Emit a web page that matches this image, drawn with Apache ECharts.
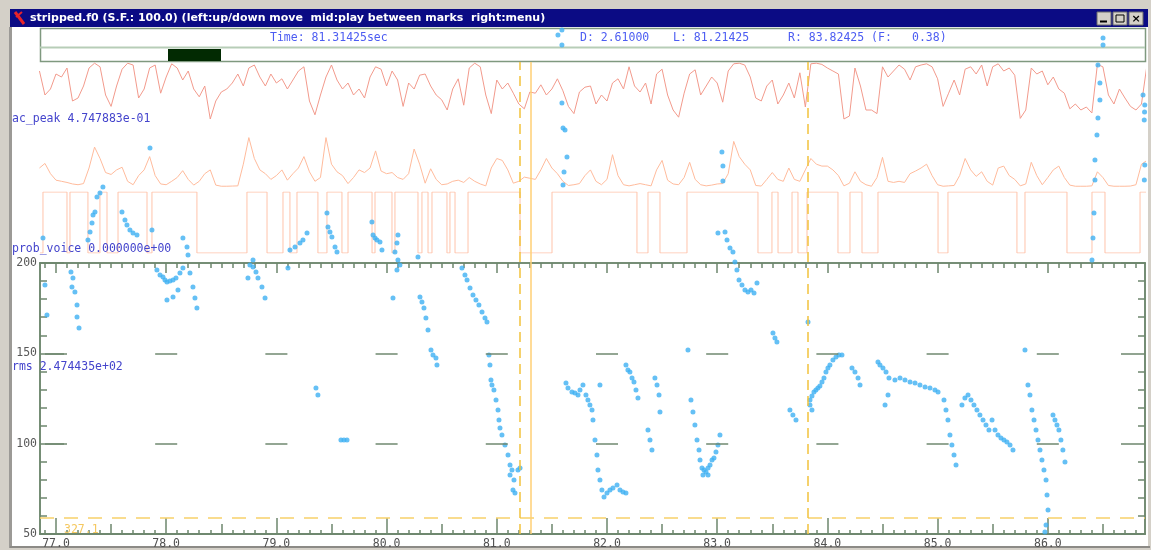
<!DOCTYPE html>
<html><head><meta charset="utf-8">
<script src="https://cdn.jsdelivr.net/npm/echarts@6/dist/echarts.min.js"></script>
<style>html,body{margin:0;padding:0;background:#d4d0c8}#c{width:1151px;height:550px}</style>
</head><body><div id="c"></div><script>
// ---------- data ----------
const fileTitle = 'stripped.f0 (S.F.: 100.0) (left:up/down move  mid:play between marks  right:menu)';
const cursorTime = 81.31425;
const leftMark = 81.21425;
const rightMark = 83.82425;
const acPeakAtCursor = 0.4747883;
const probVoiceAtCursor = 0;
const rmsAtCursor = 247.4435;
const lowerCursorF0 = 58.9;
const lowerCursorText = '327.1';
const timeTicks = [77, 78, 79, 80, 81, 82, 83, 84, 85, 86];
const f0Ticks = [50, 100, 150, 200];
const f0GridLevels = [100, 150];
const frameStart = 76.85, frameStep = 0.05;
const acPeak = [0.85,0.45,0.55,0.80,0.75,0.90,0.35,0.40,0.60,0.90,
0.98,0.92,0.45,0.26,0.60,0.88,0.98,0.95,0.40,0.55,
0.90,0.95,0.48,0.75,0.97,0.90,0.70,0.85,0.55,0.42,
0.60,0.05,0.35,0.50,0.55,0.65,0.80,0.60,0.90,0.95,
0.75,0.60,0.80,0.65,0.72,0.55,0.70,0.85,0.92,0.35,
0.12,0.45,0.75,0.95,0.70,0.55,0.65,0.45,0.55,0.40,
0.75,0.92,0.88,0.60,0.85,0.70,0.26,0.65,0.55,0.78,
0.80,0.60,0.45,0.37,0.20,0.55,0.72,0.28,0.90,0.98,
0.92,0.45,0.14,0.70,0.55,0.65,0.48,0.30,0.22,0.50,
0.48,0.62,0.45,0.55,0.72,0.52,0.26,0.14,0.50,0.58,
0.60,0.30,0.45,0.35,0.65,0.72,0.55,0.92,0.60,0.50,
0.65,0.30,0.80,0.88,0.45,0.20,0.08,0.48,0.80,0.87,
0.45,0.60,0.75,0.65,0.33,0.85,0.97,0.98,0.95,0.75,
0.40,0.35,0.60,0.70,0.30,0.45,0.65,0.40,0.82,0.25,
0.97,0.98,0.96,0.90,0.85,0.80,0.05,0.10,0.90,0.60,
0.20,0.20,0.14,0.92,0.75,0.85,0.95,0.88,0.70,0.92,
0.95,0.97,0.92,0.72,0.26,0.48,0.70,0.45,0.88,0.92,
0.80,0.95,0.60,0.92,0.97,0.85,0.90,0.78,0.06,0.20,
0.90,0.80,0.85,0.62,0.75,0.55,0.48,0.22,0.30,0.20,
0.25,0.15,0.96,0.92,0.45,0.30,0.55,0.40,0.26,0.20,
0.30,0.95];
const rms = [500,620,350,180,150,120,80,60,90,500,
1050,750,380,330,450,520,150,60,300,450,
800,300,80,60,150,250,430,200,50,150,
350,450,50,20,20,25,30,600,1300,750,
450,350,200,300,450,180,350,500,800,400,
150,250,1300,600,400,300,90,250,450,380,
500,950,420,350,380,250,200,350,1000,600,
100,480,200,60,80,150,180,120,250,150,
80,30,500,750,700,450,100,150,260,230,
200,450,750,500,350,150,40,60,90,300,
450,150,60,200,850,300,60,30,60,90,
60,30,450,700,180,80,60,250,650,200,
60,30,50,80,90,350,1200,800,600,450,
40,25,200,380,200,150,500,200,150,450,
750,600,550,550,450,300,30,100,400,150,
60,20,250,780,150,120,150,120,350,420,
500,600,300,60,20,30,40,300,750,450,
280,400,150,50,500,550,300,200,30,80,
650,300,60,250,450,550,250,50,20,20,
20,30,400,250,40,20,20,20,25,60,
600,700];
const voiceTimes = [76.855,76.882,77.100,77.127,77.290,77.399,77.463,77.563,77.826,77.871,78.279,78.733,78.915,79.060,79.123,79.187,79.377,79.459,79.595,79.650,79.868,79.895,80.049,80.076,80.285,80.321,80.376,80.412,80.548,80.575,80.621,80.739,81.211,81.501,82.272,82.372,82.481,82.726,83.370,83.497,83.552,83.679,83.733,83.815,84.096,84.205,84.314,84.459,85.004,85.094,85.720,85.793,86.174,86.401,86.519,86.837,86.927];
const voiceValues = [0,1,0,1,0,1,0,1,0,1,0,1,0,1,0,1,0,1,0,1,0,1,0,1,0,1,0,1,0,1,0,1,0,1,0,1,0,1,0,1,0,1,0,1,0,1,0,1,0,1,0,1,0,1,0,1,1];
const f0Points = [
[76.882,213.8],[76.900,187.8],[76.918,171.2],
[77.136,195.0],[77.145,186.7],[77.154,191.7],[77.172,184.0],[77.191,176.8],[77.191,170.1],[77.209,164.0],
[77.290,212.7],[77.309,217.2],[77.327,222.1],[77.336,226.6],[77.354,228.2],[77.372,236.5],[77.399,238.7],[77.426,242.1],
[77.599,228.2],[77.626,223.8],[77.644,221.0],[77.671,218.3],[77.699,216.6],[77.735,215.5],
[77.853,263.6],[77.871,218.3],
[77.916,196.1],[77.944,193.4],[77.971,192.3],[77.989,190.6],[78.007,189.5],[78.034,190.0],[78.062,190.6],[78.089,191.7],[78.125,194.5],[78.152,197.2],[78.007,179.5],[78.062,181.2],[78.107,185.1],
[78.152,213.8],[78.189,208.9],[78.198,204.4],[78.216,194.5],[78.243,186.7],[78.261,180.6],[78.279,175.1],
[78.742,191.7],[78.760,198.9],[78.788,201.7],[78.788,197.8],[78.815,195.0],[78.833,191.7],[78.869,186.7],[78.897,180.6],
[79.105,197.2],[79.123,207.2],[79.169,208.9],[79.214,211.1],[79.241,212.7],[79.278,216.6],
[79.359,130.8],[79.377,127.0],
[79.459,227.7],[79.468,219.9],[79.486,217.2],[79.504,214.4],[79.532,208.9],[79.550,206.1],
[79.586,102.0],[79.613,102.0],[79.641,102.0],
[79.867,222.7],[79.877,215.5],[79.895,213.8],[79.913,212.7],[79.940,211.6],[79.958,207.2],
[80.076,206.1],[80.094,211.1],[80.103,215.5],[80.103,201.7],[80.121,198.9],[80.094,196.1],[80.058,180.6],
[80.285,203.3],[80.303,181.2],[80.321,178.4],[80.339,175.1],[80.357,169.6],[80.376,162.9],[80.403,151.9],[80.421,149.1],[80.448,147.4],[80.457,143.6],
[80.684,197.2],[80.711,193.4],[80.730,190.6],[80.757,186.2],[80.784,182.3],[80.811,179.5],[80.838,176.8],[80.866,172.9],[80.893,169.6],[80.911,167.4],
[80.929,149.1],[80.938,143.6],[80.947,135.3],[80.956,132.5],[80.974,129.7],[80.993,124.2],[81.011,118.6],[81.020,113.1],[81.029,108.7],[81.047,104.8],[81.074,99.3],[81.102,93.7],[81.120,88.2],[81.138,85.4],[81.156,79.9],[81.147,74.4],[81.165,72.7],[81.192,85.4],[81.211,86.6],[81.120,82.7],
[81.555,326.2],[81.591,328.9],[81.591,320.6],
[81.591,288.5],[81.601,274.7],[81.619,273.6],[81.637,258.7],[81.610,250.4],[81.601,243.2],
[81.628,133.6],[81.646,130.8],[81.682,128.6],[81.709,128.1],[81.737,127.0],[81.755,129.7],[81.782,132.5],[81.809,127.0],[81.827,124.2],[81.845,121.4],[81.864,118.6],[81.873,113.1],[81.891,102.0],[81.909,93.7],[81.918,85.4],[81.936,79.9],[81.954,74.4],[81.973,70.5],[82.000,72.7],[82.027,74.4],[82.054,75.5],[82.091,77.1],[82.118,74.4],[82.145,73.3],[82.172,72.7],[81.936,132.5],
[82.172,143.6],[82.190,140.8],[82.208,139.7],[82.227,136.4],[82.245,134.1],[82.263,129.7],[82.281,125.3],
[82.372,107.6],[82.390,102.0],[82.408,96.5],[82.435,136.4],[82.454,132.5],[82.472,127.0],[82.481,117.5],
[82.735,151.9],
[82.762,124.2],[82.780,117.5],[82.798,110.3],[82.817,102.0],[82.835,96.5],[82.844,91.0],[82.862,86.6],[82.880,85.4],[82.898,84.3],[82.917,86.6],[82.935,88.2],[82.953,91.0],[82.971,92.1],[82.989,95.4],[83.007,99.3],[83.025,104.8],[82.917,82.7],[82.871,82.7],
[83.043,261.4],[83.052,253.7],[83.052,245.4],[83.007,216.6],[83.071,217.2],[83.089,212.7],[83.116,208.3],[83.143,206.1],
[83.161,200.6],[83.179,196.1],[83.198,190.6],[83.225,187.8],[83.252,185.1],[83.279,184.0],[83.307,185.1],[83.334,183.4],[83.361,188.9],
[83.506,161.3],[83.524,158.5],[83.542,156.3],
[83.660,118.6],[83.687,115.9],[83.715,113.1],
[83.824,167.4],
[83.842,124.2],[83.860,126.4],[83.878,128.6],[83.896,129.7],[83.914,130.8],[83.932,131.9],[83.951,134.1],[83.969,136.4],[83.987,139.7],[84.005,141.9],[84.023,143.6],[84.050,146.3],[84.078,148.0],[84.105,149.1],[84.132,149.1],[83.842,121.4],[83.860,118.6],
[84.223,141.9],[84.250,139.7],[84.278,136.4],[84.296,132.5],
[84.459,145.2],[84.477,143.6],[84.504,141.9],[84.532,139.7],[84.559,136.4],[84.550,127.0],[84.523,121.4],
[84.613,135.3],[84.659,136.4],[84.704,135.3],[84.750,134.1],[84.795,133.6],[84.840,132.5],[84.886,131.4],[84.931,130.8],[84.976,129.7],[85.004,128.6],
[85.058,124.2],[85.076,118.6],[85.094,113.1],[85.112,104.8],[85.130,99.3],[85.149,93.7],[85.167,88.2],
[85.221,121.4],[85.248,125.3],[85.276,127.0],[85.303,124.2],[85.330,121.4],[85.357,118.6],[85.384,115.9],[85.412,113.1],[85.439,110.3],[85.466,107.6],
[85.494,113.1],[85.521,107.6],[85.548,104.8],[85.575,103.2],[85.602,102.0],[85.629,100.9],[85.657,99.3],[85.684,96.5],
[85.793,151.9],
[85.820,132.5],[85.838,127.0],[85.856,118.6],[85.875,113.1],[85.893,107.6],[85.911,102.0],[85.929,96.5],[85.947,91.0],[85.965,85.4],[85.984,79.9],[85.993,71.6],[86.002,63.3],[85.984,55.0],[85.974,51.1],
[86.047,115.9],[86.065,113.1],[86.083,110.3],[86.101,107.6],[86.119,102.0],[86.137,96.5],[86.156,89.9],
[86.401,201.7],[86.410,213.8],[86.419,227.7],[86.428,245.9],[86.428,257.0],[86.446,270.8],[86.455,280.2],[86.473,290.2],[86.473,299.6],[86.455,309.6],[86.501,320.6],[86.501,324.5],
[86.864,293.0],[86.880,287.4],[86.878,283.6],[86.875,279.1],[86.880,254.2],[86.876,245.9]
];

// ---------- layout / helpers ----------
const X0 = 76.855, X1 = 86.882;
const L = 40, W = 1105;
function sci(v) {
  const s = v.toExponential(6).split('e');
  const e = s[1];
  const sign = e[0] === '-' ? '-' : '+';
  return s[0] + 'e' + sign + e.replace(/[+-]/, '').padStart(2, '0');
}
const frameTimes = acPeak.map((_, i) => +(frameStart + i * frameStep).toFixed(3));
const halfTicks = timeTicks.map(t => t + 0.5).filter(t => t < X1);
const minorTicks = [];
for (let k = Math.ceil(X0 * 10); k <= Math.floor(X1 * 10); k++) {
  if (k % 5 !== 0) minorTicks.push(k / 10);
}
const f0Minor = [];
for (let v = 60; v < 200; v += 10) if (v % 50 !== 0) f0Minor.push(v);

const axisCol = '#6d866d';
const mono = 'DejaVu Sans Mono';
function hiddenX(grid) { return { type: 'value', gridIndex: grid, min: X0, max: X1, show: false }; }
function tickX(grid, pos, vals, len, labels) {
  return {
    type: 'value', gridIndex: grid, min: X0, max: X1, position: pos,
    axisLine: { show: true, lineStyle: { color: axisCol, width: 1.5 } },
    splitLine: { show: false },
    axisTick: { show: true, inside: true, length: len, customValues: vals, lineStyle: { color: axisCol, width: 1.5 } },
    axisLabel: labels ? { show: true, customValues: vals, formatter: v => v.toFixed(1), color: '#505050', fontFamily: mono, fontSize: 11.5, margin: 4 } : { show: false }
  };
}
function tickY(grid, pos, vals, len, labels) {
  return {
    type: 'value', gridIndex: grid, min: 50, max: 200, position: pos,
    axisLine: { show: true, lineStyle: { color: axisCol, width: 1.5 } },
    splitLine: { show: false },
    axisTick: { show: true, inside: true, length: len, customValues: vals, lineStyle: { color: axisCol, width: 1.5 } },
    axisLabel: labels ? { show: true, customValues: vals, color: '#585858', fontFamily: mono, fontSize: 11.5, margin: 3 } : { show: false }
  };
}

const gridDashes = [];
f0GridLevels.forEach(lv => timeTicks.forEach(t => {
  gridDashes.push([{ coord: [t - 0.1, lv] }, { coord: [t + 0.1, lv] }]);
}));

const header = [
  { text: 'Time: ' + cursorTime.toFixed(5) + 'sec', x: 270 },
  { text: 'D: ' + (rightMark - leftMark).toFixed(5), x: 580 },
  { text: 'L: ' + leftMark.toFixed(5), x: 673 },
  { text: 'R: ' + rightMark.toFixed(5) + ' (F:', x: 788 },
  { text: (1 / (rightMark - leftMark)).toFixed(2) + ')', x: 912 }
];
const traceLabels = [
  { text: 'ac_peak ' + sci(acPeakAtCursor), y: 119 },
  { text: 'prob_voice ' + sci(probVoiceAtCursor), y: 249 },
  { text: 'rms ' + sci(rmsAtCursor), y: 367 }
];

const graphics = [
  { type: 'rect', z: -10, shape: { x: 12, y: 27, width: 1136, height: 520 }, style: { fill: '#ffffff' } },
  { type: 'rect', z: -9, shape: { x: 9, y: 27, width: 3, height: 521 }, style: { fill: '#9c9a96' } },
  { type: 'rect', z: -9, shape: { x: 10, y: 546, width: 1140, height: 2 }, style: { fill: '#8c8a86' } },
  { type: 'rect', shape: { x: 10, y: 9, width: 1138, height: 18 }, style: { fill: '#0b0b84' } },
  { type: 'line', shape: { x1: 15, y1: 12, x2: 24, y2: 24 }, style: { stroke: '#e8242a', lineWidth: 3 } },
  { type: 'line', shape: { x1: 22, y1: 12, x2: 16, y2: 17 }, style: { stroke: '#e8242a', lineWidth: 2 } },
  { type: 'text', style: { text: fileTitle, x: 30, y: 18, fill: '#ffffff', font: 'bold 11px "DejaVu Sans"', verticalAlign: 'middle' } },
  { type: 'rect', shape: { x: 1097, y: 12, width: 14, height: 13 }, style: { fill: '#d4d0c8', stroke: '#6a6a6a' } },
  { type: 'rect', shape: { x: 1113, y: 12, width: 14, height: 13 }, style: { fill: '#d4d0c8', stroke: '#6a6a6a' } },
  { type: 'rect', shape: { x: 1129, y: 12, width: 14, height: 13 }, style: { fill: '#d4d0c8', stroke: '#6a6a6a' } },
  { type: 'line', shape: { x1: 1100, y1: 21.5, x2: 1107, y2: 21.5 }, style: { stroke: '#000', lineWidth: 2 } },
  { type: 'rect', shape: { x: 1116, y: 15, width: 8, height: 7 }, style: { fill: 'none', stroke: '#000', lineWidth: 1 } },
  { type: 'text', style: { text: '×', x: 1136, y: 19, fill: '#000', font: 'bold 11px "DejaVu Sans"', align: 'center', verticalAlign: 'middle' } },
  { type: 'rect', shape: { x: 40.5, y: 28.5, width: 1105, height: 33 }, style: { fill: 'none', stroke: '#7f997f', lineWidth: 1.5 } },
  { type: 'line', shape: { x1: 40, y1: 47.5, x2: 1145, y2: 47.5 }, style: { stroke: '#b7cdb7', lineWidth: 2 } },
  { type: 'rect', shape: { x: 168, y: 49, width: 53, height: 12 }, style: { fill: '#022a02' } },
  { type: 'text', z: 5, style: { text: lowerCursorText, x: 64, y: 530, fill: '#f5c860', font: '11.5px "' + mono + '"', verticalAlign: 'middle' } }
];
header.forEach(h => graphics.push({ type: 'text', style: { text: h.text, x: h.x, y: 38, fill: '#4c5cf2', font: '11.5px "' + mono + '"', verticalAlign: 'middle' } }));
traceLabels.forEach(h => graphics.push({ type: 'text', z: 5, style: { text: h.text, x: 12, y: h.y, fill: '#4444cc', font: '11.5px "' + mono + '"', verticalAlign: 'middle' } }));

const option = {
  animation: false,
  backgroundColor: '#d4d0c8',
  grid: [
    { left: L, width: W, top: 62, height: 60 },
    { left: L, width: W, top: 130, height: 57 },
    { left: L, width: W, top: 192, height: 61 },
    { left: L, width: W, top: 263, height: 271 },
    { left: L, width: W, top: 62, height: 472 }
  ],
  xAxis: [
    hiddenX(0), hiddenX(1), hiddenX(2),
    tickX(3, 'bottom', timeTicks, 16, true),
    tickX(3, 'bottom', halfTicks, 10, false),
    tickX(3, 'bottom', minorTicks, 4, false),
    tickX(3, 'top', timeTicks, 10, false),
    tickX(3, 'top', minorTicks.concat(halfTicks), 5, false),
    hiddenX(4)
  ],
  yAxis: [
    { type: 'value', gridIndex: 0, min: 0, max: 1, show: false },
    { type: 'value', gridIndex: 1, min: 0, max: 1500, show: false },
    { type: 'value', gridIndex: 2, min: 0, max: 1, show: false },
    tickY(3, 'left', f0Ticks, 24, true),
    tickY(3, 'left', f0Minor, 7, false),
    tickY(3, 'right', f0Ticks, 24, false),
    tickY(3, 'right', f0Minor, 7, false),
    { type: 'value', gridIndex: 4, min: 0, max: 1, show: false }
  ],
  graphic: { elements: graphics },
  series: [
    { name: 'ac_peak', type: 'line', xAxisIndex: 0, yAxisIndex: 0, showSymbol: false,
      data: frameTimes.map((t, i) => [t, acPeak[i]]), lineStyle: { color: '#f29a8c', width: 1 } },
    { name: 'rms', type: 'line', xAxisIndex: 1, yAxisIndex: 1, showSymbol: false,
      data: frameTimes.map((t, i) => [t, rms[i]]), lineStyle: { color: '#ffbb9c', width: 1 } },
    { name: 'prob_voice', type: 'line', xAxisIndex: 2, yAxisIndex: 2, showSymbol: false, step: 'end',
      data: voiceTimes.map((t, i) => [t, voiceValues[i]]), lineStyle: { color: '#ffc3aa', width: 1 } },
    { name: 'F0', type: 'scatter', xAxisIndex: 3, yAxisIndex: 3, clip: false, z: 4,
      symbol: 'circle', symbolSize: 5, data: f0Points, itemStyle: { color: '#3eb0f2' },
      markLine: { silent: true, symbol: 'none', label: { show: false }, animation: false,
        lineStyle: { color: '#6f886f', width: 1.5, type: 'solid' },
        data: gridDashes.concat([{ yAxis: lowerCursorF0, lineStyle: { color: '#f7d16a', width: 1.5, type: [14, 10] } }]) } },
    { name: 'marks', type: 'line', xAxisIndex: 8, yAxisIndex: 7, showSymbol: false, data: [[X0, -1]],
      lineStyle: { opacity: 0 }, z: 3,
      markLine: { silent: true, symbol: 'none', label: { show: false }, animation: false,
        data: [
          { xAxis: leftMark, lineStyle: { color: '#f2c23c', width: 1.5, type: [10, 6] } },
          { xAxis: cursorTime, lineStyle: { color: '#ffcf75', width: 1.5, type: 'solid' } },
          { xAxis: rightMark, lineStyle: { color: '#f2c23c', width: 1.5, type: [10, 6] } }
        ] } }
  ]
};
const chart = echarts.init(document.getElementById('c'));
chart.setOption(option);
</script></body></html>
